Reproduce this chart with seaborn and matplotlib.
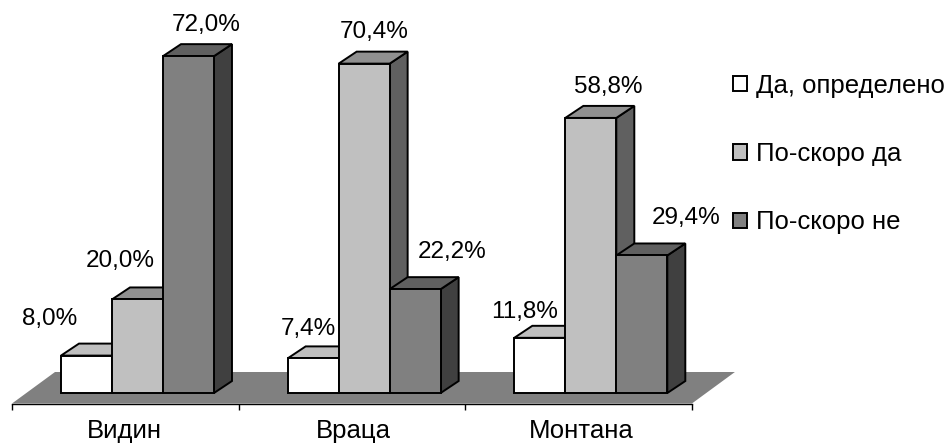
import pandas as pd
import numpy as np
import matplotlib
matplotlib.use('Agg')
import matplotlib.pyplot as plt
from matplotlib.patches import Polygon
import seaborn as sns

# values
regions = ['Видин', 'Враца', 'Монтана']
answers = ['Да, определено', 'По-скоро да', 'По-скоро не']
da_opredeleno = [8.0, 7.4, 11.8]
po_skoro_da = [20.0, 70.4, 58.8]
po_skoro_ne = [72.0, 22.2, 29.4]
colors = ['#FFFFFF', '#C0C0C0', '#808080']

# hand placed labels, pixels from top centre of each bar
label_offsets = [
    [(-37, 37), (-17, 38), (18, 31)],
    [(-5, 29), (10, 32), (37, 37)],
    [(-15, 26), (17, 31), (44, 37)],
]
region_label_x = [-0.06, 0.954, 1.959]

PX_PER_CAT = 226.7
PX_PER_UNIT = 4.68
DEPTH_X = 18 / PX_PER_CAT
DEPTH_Y = 12 / PX_PER_UNIT

sns.set_theme(style='white')
plt.rcParams['font.family'] = ['Liberation Sans', 'DejaVu Sans']
plt.rcParams['text.color'] = 'black'

df = pd.DataFrame({
    'region': np.tile(regions, 3),
    'answer': np.repeat(answers, 3),
    'value': da_opredeleno + po_skoro_da + po_skoro_ne,
})

fig = plt.figure(figsize=(9.48, 4.43), dpi=100)
ax = fig.add_axes([12 / 948, 39.5 / 443, 680 / 948, 403.5 / 443])
sns.barplot(data=df, x='region', y='value', hue='answer', order=regions,
            hue_order=answers, palette=colors, saturation=1, width=0.675,
            gap=0, edgecolor='black', linewidth=1.4, ax=ax)

ax.set_xlim(-0.5536, 2.446)
ax.set_ylim(-2.24, 84)
ax.patch.set_alpha(0)

# floor under the bars
x0, x1 = ax.get_xlim()
y0 = ax.get_ylim()[0]
floor_dx = 43 / PX_PER_CAT
floor_dy = 31.5 / PX_PER_UNIT
ax.add_patch(Polygon([(x0, y0), (x1, y0), (x1 + floor_dx, y0 + floor_dy),
                      (x0 + floor_dx, y0 + floor_dy)],
                     closed=True, facecolor='#808080', edgecolor='none',
                     zorder=1, clip_on=False))

# fake 3D: sides and tops behind the front faces
for hue_i, container in enumerate(ax.containers):
    rgb = np.array(matplotlib.colors.to_rgb(colors[hue_i]))
    for reg_i, bar in enumerate(container):
        x = bar.get_x()
        w = bar.get_width()
        h = bar.get_height()
        bar.set_zorder(5)
        bar.set_clip_on(False)
        ax.add_patch(Polygon([(x + w, 0), (x + w + DEPTH_X, DEPTH_Y),
                              (x + w + DEPTH_X, h + DEPTH_Y), (x + w, h)],
                             closed=True, facecolor=rgb * 0.5, edgecolor='black',
                             linewidth=1.4, zorder=3, clip_on=False))
        ax.add_patch(Polygon([(x, h), (x + w, h), (x + w + DEPTH_X, h + DEPTH_Y),
                              (x + DEPTH_X, h + DEPTH_Y)],
                             closed=True, facecolor=rgb * 0.75, edgecolor='black',
                             linewidth=1.4, zorder=4, clip_on=False))
        ax.annotate(f'{h:.1f}%'.replace('.', ','), (x + w / 2, h),
                    xytext=label_offsets[reg_i][hue_i], textcoords='offset pixels',
                    ha='center', va='center', fontsize=17.5, color='black',
                    zorder=6, annotation_clip=False)

# ticks at group edges, names on invisible minor ticks
edges = x0 + np.arange(4)
ax.set_xticks(edges, [''] * 4)
ax.set_xticks(region_label_x, regions, minor=True)
ax.tick_params(axis='x', which='major', length=4.5, width=1, color='black', bottom=True)
ax.tick_params(axis='x', which='minor', length=0, pad=11.5, labelsize=18.5, labelcolor='black')
ax.set_yticks([])
ax.set_xlabel('')
ax.set_ylabel('')
sns.despine(ax=ax, left=True)
ax.spines['bottom'].set_color('black')
ax.spines['bottom'].set_linewidth(1)

handles, labels = ax.get_legend_handles_labels()
ax.legend(handles, labels, loc='center left', bbox_to_anchor=(733 / 948, 1 - 154 / 443),
          bbox_transform=fig.transFigure, frameon=False, fontsize=18.5, labelspacing=1.73,
          handlelength=0.56, handleheight=0.56, handletextpad=0.32,
          borderpad=0, borderaxespad=0, labelcolor='black')

fig.savefig('out.png', dpi=100)
